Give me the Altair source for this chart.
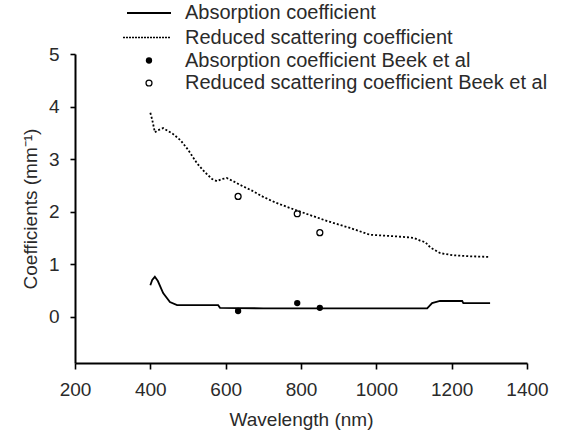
import altair as alt
import pandas as pd

# Measured curves
scat_wl = [400, 405, 412, 420, 434, 460, 480, 500, 524, 545, 564, 577, 590, 603, 620, 638,
           670, 700, 730, 763, 790, 830, 870, 930, 983, 1030, 1071, 1100, 1116, 1130, 1143,
           1170, 1204, 1250, 1297]
scat_val = [3.88, 3.75, 3.51, 3.55, 3.59, 3.48, 3.36, 3.18, 2.92, 2.75, 2.62, 2.58, 2.62, 2.64,
            2.58, 2.51, 2.40, 2.28, 2.18, 2.09, 2.02, 1.92, 1.82, 1.69, 1.56, 1.54, 1.52, 1.50,
            1.45, 1.42, 1.32, 1.21, 1.17, 1.15, 1.14]

abs_wl = [400, 405, 412, 420, 434, 452, 471, 500, 580, 585, 700, 900, 1135, 1148, 1169, 1228,
          1231, 1302]
abs_val = [0.60, 0.70, 0.76, 0.68, 0.45, 0.28, 0.22, 0.22, 0.22, 0.17, 0.16, 0.16, 0.16, 0.26,
           0.30, 0.30, 0.26, 0.26]

# Beek et al reference points
beek_wl = [633, 790, 850]
beek_abs = [0.11, 0.26, 0.17]
beek_scat = [2.29, 1.96, 1.60]

x_ticks = [200, 400, 600, 800, 1000, 1200, 1400]
y_ticks = [0, 1, 2, 3, 4, 5]

legend_labels = [
    "Absorption coefficient",
    "Reduced scattering coefficient",
    "Absorption coefficient Beek et al",
    "Reduced scattering coefficient Beek et al",
]

FONT = "Liberation Sans"
TXT = "#2a2a2a"

scat_df = pd.DataFrame({"wl": scat_wl, "v": scat_val})
abs_df = pd.DataFrame({"wl": abs_wl, "v": abs_val})
beek_abs_df = pd.DataFrame({"wl": beek_wl, "v": beek_abs})
beek_scat_df = pd.DataFrame({"wl": beek_wl, "v": beek_scat})

xscale = alt.Scale(domain=[200, 1400], nice=False, zero=False)
yscale = alt.Scale(domain=[-0.88, 5], nice=False, zero=False)

xax = alt.X("wl:Q", scale=xscale,
            axis=alt.Axis(values=x_ticks, title="Wavelength (nm)", format="d",
                          labelFlush=False, labelPadding=11, titlePadding=11, tickSize=6))
yax = alt.Y("v:Q", scale=yscale,
            axis=alt.Axis(values=y_ticks, title="Coefficients (mm⁻¹)", format="d",
                          labelFlush=False, labelPadding=11, titlePadding=8, tickSize=5))

abs_line = alt.Chart(abs_df).mark_line(color="black", strokeWidth=1.8).encode(x=xax, y=yax)
scat_line = alt.Chart(scat_df).mark_line(color="black", strokeWidth=1.8,
                                         strokeDash=[2, 2]).encode(x=xax, y=yax)
abs_pts = alt.Chart(beek_abs_df).mark_point(shape="circle", filled=True, color="black",
                                            size=40, opacity=1).encode(x=xax, y=yax)
scat_pts = alt.Chart(beek_scat_df).mark_point(shape="circle", filled=False, color="black",
                                              size=35, strokeWidth=1.3, opacity=1).encode(x=xax, y=yax)

# Legend (drawn manually above the plot), positions relative to plot origin
row_y = [-41, -16.5, 6.5, 29]
line_x0, line_x1, sym_x, text_x = 52, 96, 74, 110

def one(label):
    return pd.DataFrame({"t": [label]})

leg = []
leg.append(alt.Chart(one(legend_labels[0])).mark_rule(color="black", strokeWidth=1.8).encode(
    x=alt.value(line_x0), x2=alt.value(line_x1), y=alt.value(row_y[0])))
leg.append(alt.Chart(one(legend_labels[1])).mark_rule(color="black", strokeWidth=1.5,
                                                      strokeDash=[2, 1]).encode(
    x=alt.value(line_x0 - 4), x2=alt.value(line_x1), y=alt.value(row_y[1])))
leg.append(alt.Chart(one(legend_labels[2])).mark_point(shape="circle", filled=True, color="black",
                                                       size=40, opacity=1).encode(
    x=alt.value(sym_x), y=alt.value(row_y[2])))
leg.append(alt.Chart(one(legend_labels[3])).mark_point(shape="circle", filled=False, color="black",
                                                       size=35, strokeWidth=1.3, opacity=1).encode(
    x=alt.value(sym_x), y=alt.value(row_y[3])))
for i, lab in enumerate(legend_labels):
    leg.append(alt.Chart(one(lab)).mark_text(align="left", baseline="middle", font=FONT,
                                             fontSize=20, color=TXT).encode(
        x=alt.value(text_x), y=alt.value(row_y[i]), text="t:N"))

chart = alt.layer(abs_line, scat_line, abs_pts, scat_pts, *leg).properties(
    width=452, height=309,
    background="white",
    autosize=alt.AutoSizeParams(type="none"),
    padding={"left": 75, "top": 54, "right": 35, "bottom": 77},
).configure_view(stroke=None).configure_axis(
    grid=False, domainColor="black", domainWidth=2, tickColor="black", tickWidth=1.6,
    labelFont=FONT, labelFontSize=19, labelColor=TXT, labelFontWeight="normal",
    titleFont=FONT, titleFontSize=19, titleColor=TXT, titleFontWeight="normal",
)

chart.save("out.html", embed_options={"renderer": "svg", "actions": False})
